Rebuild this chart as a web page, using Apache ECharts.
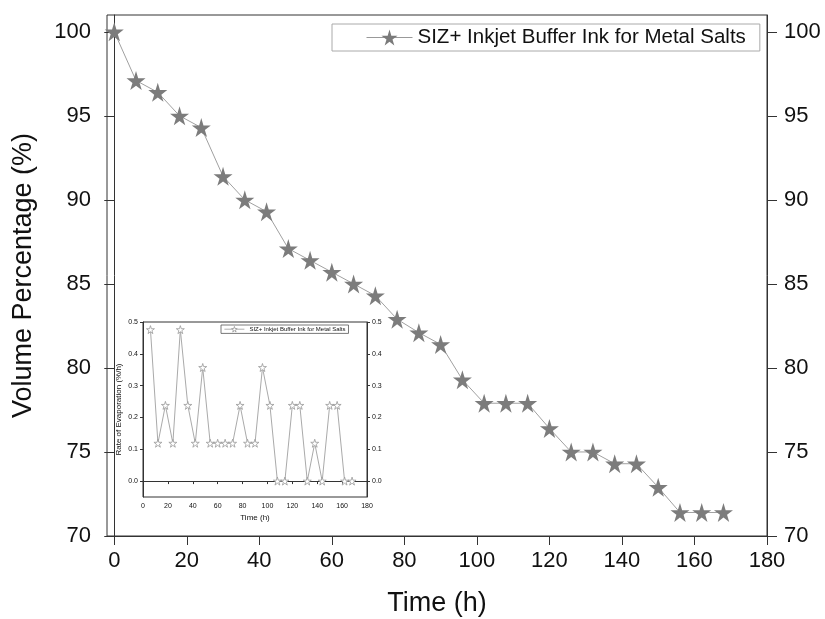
<!DOCTYPE html>
<html>
<head>
<meta charset="utf-8">
<script src="https://cdn.jsdelivr.net/npm/echarts@6/dist/echarts.min.js"></script>
<style>
  html, body { margin: 0; padding: 0; background: #fff; }
  #main { width: 825px; height: 619px; }
</style>
</head>
<body>
<div id="main"></div>
<script>
  // main curve: volume percentage vs time
  var timeH = [0, 6, 12, 18, 24, 30, 36, 42, 48, 54, 60, 66, 72, 78, 84, 90, 96, 102, 108, 114, 120, 126, 132, 138, 144, 150, 156, 162, 168];
  var volumePct = [100, 97.1, 96.4, 95, 94.3, 91.4, 90, 89.3, 87.1, 86.4, 85.7, 85, 84.3, 82.9, 82.1, 81.4, 79.3, 77.9, 77.9, 77.9, 76.4, 75, 75, 74.3, 74.3, 72.9, 71.4, 71.4, 71.4];

  // inset: rate of evaporation
  var rateTime = [6, 12, 18, 24, 30, 36, 42, 48, 54, 60, 66, 72, 78, 84, 90, 96, 102, 108, 114, 120, 126, 132, 138, 144, 150, 156, 162, 168];
  var rateVal = [0.476, 0.119, 0.238, 0.119, 0.476, 0.238, 0.119, 0.357, 0.119, 0.119, 0.119, 0.119, 0.238, 0.119, 0.119, 0.357, 0.238, 0, 0, 0.238, 0.238, 0, 0.119, 0, 0.238, 0.238, 0, 0];

  var xTicks = [0, 20, 40, 60, 80, 100, 120, 140, 160, 180];
  var yTicks = [70, 75, 80, 85, 90, 95, 100];
  var rateTicks = [0, 0.1, 0.2, 0.3, 0.4, 0.5];

  var seriesName = 'SIZ+ Inkjet Buffer Ink for Metal Salts';
  var star = 'path://M50,0 L61,35 L98,35 L68,57 L79,91 L50,70 L21,91 L32,57 L2,35 L39,35 Z';

  var font = 'Liberation Sans, Arial, sans-serif';
  var axisCol = '#333';

  const chart = echarts.init(document.getElementById('main'));

  function zip(a, b) {
    return a.map(function (v, i) { return [v, b[i]]; });
  }

  let option = {
    animation: false,
    textStyle: { fontFamily: font },
    grid: [
      { left: 107, top: 15, width: 660, height: 521, outerBoundsMode: 'none', show: true, borderColor: axisCol, borderWidth: 1 },
      { left: 143, top: 322, width: 224, height: 175, outerBoundsMode: 'none', show: true, borderColor: axisCol, borderWidth: 1, backgroundColor: '#fff' }
    ],
    legend: [
      {
        left: 332, top: 24, width: 427,
        padding: [3, 14, 3, 34],
        borderColor: '#aaa', borderWidth: 1,
        itemWidth: 46, itemHeight: 20,
        textStyle: { fontSize: 20.5, color: '#111', fontFamily: font },
        data: [{ name: seriesName, itemStyle: { color: '#7a7a7a' }, lineStyle: { color: '#999', width: 1 } }]
      },
      {
        left: 221, top: 325, width: 145,
        padding: [1, 3, 1, 3],
        borderColor: '#555', borderWidth: 0.8,
        itemWidth: 20, itemHeight: 7, itemGap: 2,
        textStyle: { fontSize: 6, color: '#111', fontFamily: font },
        data: [{ name: seriesName, itemStyle: { color: '#fff', borderColor: '#999', borderWidth: 0.8 }, lineStyle: { color: '#999', width: 0.8 } }]
      }
    ],
    xAxis: [
      {
        gridIndex: 0, type: 'value', min: -2, max: 180,
        name: 'Time (h)', nameLocation: 'middle', nameGap: 54,
        nameTextStyle: { fontSize: 27, color: '#111', fontFamily: font },
        axisLine: { lineStyle: { color: axisCol } },
        axisTick: { show: true, length: 9, customValues: xTicks, lineStyle: { color: axisCol } },
        axisLabel: { fontSize: 22, color: '#111', margin: 14, customValues: xTicks },
        splitLine: { show: false }
      },
      {
        gridIndex: 1, type: 'value', min: 0, max: 180, interval: 20,
        name: 'Time (h)', nameLocation: 'middle', nameGap: 17,
        nameTextStyle: { fontSize: 8, color: '#111', fontFamily: font },
        axisLine: { lineStyle: { color: axisCol } },
        axisTick: { show: true, length: 3, lineStyle: { color: axisCol } },
        axisLabel: { fontSize: 7, color: '#111', margin: 6, customValues: xTicks },
        splitLine: { show: false }
      }
    ],
    yAxis: [
      {
        gridIndex: 0, type: 'value', min: 70, max: 101,
        name: 'Volume Percentage (%)', nameLocation: 'middle', nameGap: 70,
        nameTextStyle: { fontSize: 27, color: '#111', fontFamily: font },
        axisLine: { show: true, lineStyle: { color: axisCol } },
        axisTick: { show: true, length: 10, customValues: yTicks, lineStyle: { color: axisCol } },
        axisLabel: { fontSize: 22, color: '#111', margin: 16, customValues: yTicks },
        splitLine: { show: false }
      },
      {
        gridIndex: 0, type: 'value', min: 70, max: 101, position: 'right',
        axisLine: { show: true, lineStyle: { color: axisCol } },
        axisTick: { show: true, length: 10, customValues: yTicks, lineStyle: { color: axisCol } },
        axisLabel: { fontSize: 22, color: '#111', margin: 17, customValues: yTicks },
        splitLine: { show: false }
      },
      {
        gridIndex: 1, type: 'value', min: -0.05, max: 0.5,
        name: 'Rate of Evaporation (%/h)', nameLocation: 'middle', nameGap: 20,
        nameTextStyle: { fontSize: 8, color: '#111', fontFamily: font },
        axisLine: { show: true, lineStyle: { color: axisCol } },
        axisTick: { show: true, length: 3, customValues: rateTicks, lineStyle: { color: axisCol } },
        axisLabel: { fontSize: 7, color: '#111', margin: 5, customValues: rateTicks, formatter: function (v) { return v.toFixed(1); } },
        splitLine: { show: false }
      },
      {
        gridIndex: 1, type: 'value', min: -0.05, max: 0.5, position: 'right',
        axisLine: { show: true, lineStyle: { color: axisCol } },
        axisTick: { show: true, length: 3, customValues: rateTicks, lineStyle: { color: axisCol } },
        axisLabel: { fontSize: 7, color: '#111', margin: 5, customValues: rateTicks, formatter: function (v) { return v.toFixed(1); } },
        splitLine: { show: false }
      }
    ],
    series: [
      {
        name: seriesName, type: 'line', xAxisIndex: 0, yAxisIndex: 0,
        data: zip(timeH, volumePct),
        symbol: star, symbolSize: 19,
        itemStyle: { color: '#7c7c7c' },
        lineStyle: { color: '#a0a0a0', width: 1 },
        z: 2
      },
      {
        name: seriesName, type: 'line', xAxisIndex: 1, yAxisIndex: 2,
        data: zip(rateTime, rateVal),
        symbol: star, symbolSize: 8,
        itemStyle: { color: '#fff', borderColor: '#999', borderWidth: 0.8 },
        lineStyle: { color: '#aaa', width: 1 },
        z: 5
      }
    ]
  };
  chart.setOption(option);
</script>
</body>
</html>
